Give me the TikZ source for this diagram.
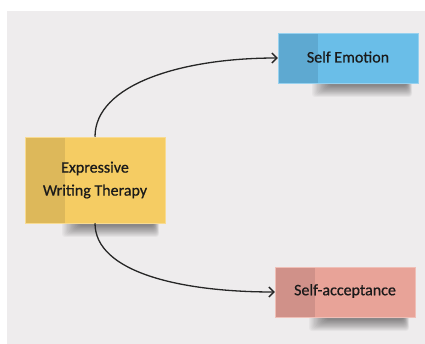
\documentclass[tikz,border=0pt]{standalone}
\usepackage{fontspec}
\setmainfont{Carlito}
\newfontfamily\lblfont{Carlito}[FakeBold=0.6]
\usetikzlibrary{arrows.meta}
\definecolor{bgc}{HTML}{EEECED}
\definecolor{ylw}{HTML}{F5CC63}
\definecolor{ylwd}{HTML}{DDB85A}
\definecolor{blu}{HTML}{6ABEE8}
\definecolor{blud}{HTML}{5EA9D1}
\definecolor{pnk}{HTML}{E8A398}
\definecolor{pnkd}{HTML}{D09189}
\definecolor{txt}{HTML}{1A1A1A}
\tikzset{
  boxstyle/.style={draw=#1!70!white, line width=0.5pt, fill=#1, minimum height=50pt, minimum width=140pt, inner sep=0pt,
    path picture={\fill[#1d] (path picture bounding box.south west) rectangle ([xshift=40pt]path picture bounding box.north west);}},
  lbl/.style={text=txt, font=\lblfont\fontsize{16}{23}\selectfont, align=center},
  conn/.style={draw=black!85, line width=1.3pt, -{Straight Barb[length=5pt,width=10pt,line width=1.3pt]}},
}
\newcommand{\softshadow}[4]{% x1 y1 x2 y2 (y1 hidden under box)
  \foreach \k in {0,...,13}{
    \fill[black, opacity=0.035, rounded corners=3pt] ({#1+\k*1.3},{#2}) rectangle ({#3-\k*0.4},{#4-\k*0.85});
  }}
\begin{document}
\begin{tikzpicture}[x=1pt,y=-1pt]
\useasboundingbox (0,0) rectangle (425,344);
\fill[white] (0,0) rectangle (425,344);
\fill[bgc] (7,11) rectangle (425,344);
% shadows
\softshadow{62}{215}{159}{237}
\softshadow{312}{75}{412}{97}
\softshadow{309}{309}{409}{331}
% boxes
\node[boxstyle=ylw, minimum height=86pt] (ewt) at (95,180) {};
\node[lbl] (ewtt) at (95,180) {Expressive\\Writing Therapy};
\node[boxstyle=blu] (se) at (348,58) {};
\node[lbl] (set) at (348,57) {Self Emotion};
\node[boxstyle=pnk] (sa) at (345,292) {};
\node[lbl] (sat) at (345,291) {Self-acceptance};
% connectors
\draw[conn] (ewt.north) .. controls (95,85) and (180,58) .. (se.west);
\draw[conn] (ewt.south) .. controls (95,272) and (180,292) .. (sa.west);
\end{tikzpicture}
\end{document}
